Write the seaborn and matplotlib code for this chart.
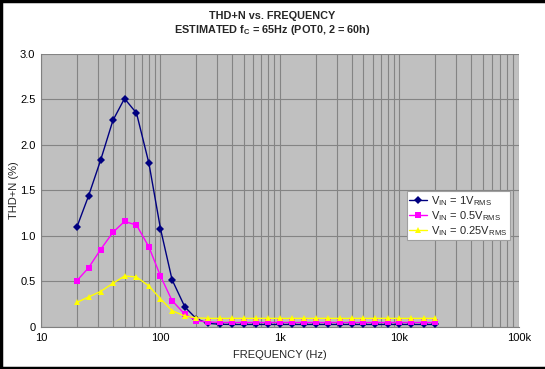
import numpy as np
import pandas as pd
import seaborn as sns
import matplotlib.pyplot as plt
from matplotlib.ticker import FixedLocator, LogLocator, NullFormatter

# donnees (pas de 1/3 d'octave)
freq = [20, 25, 31.5, 40, 50, 63, 80, 100, 125, 160, 200, 250, 315, 400, 500, 630, 800,
        1000, 1250, 1600, 2000, 2500, 3150, 4000, 5000, 6300, 8000, 10000, 12500, 16000, 20000]
thd_1v = [1.10, 1.44, 1.83, 2.27, 2.51, 2.35, 1.80, 1.08, 0.52, 0.22, 0.09, 0.04, 0.03] + [0.028] * 18
thd_05v = [0.51, 0.65, 0.85, 1.04, 1.16, 1.12, 0.88, 0.56, 0.29, 0.14, 0.07, 0.055, 0.05] + [0.05] * 18
thd_025v = [0.27, 0.33, 0.39, 0.48, 0.56, 0.55, 0.45, 0.31, 0.18, 0.12, 0.10, 0.095, 0.095] + [0.095] * 18

labels = [r'V$_{IN}$ = 1V$_{RMS}$', r'V$_{IN}$ = 0.5V$_{RMS}$', r'V$_{IN}$ = 0.25V$_{RMS}$']
xtick_vals = [10, 100, 1000, 10000, 100000]
xtick_labels = ['10', '100', '1k', '10k', '100k']
ytick_vals = [0, 0.5, 1.0, 1.5, 2.0, 2.5, 3.0]
ytick_labels = ['0', '0.5', '1.0', '1.5', '2.0', '2.5', '3.0']

df = pd.concat([
    pd.DataFrame({'freq': freq, 'thd': thd_1v, 'serie': labels[0]}),
    pd.DataFrame({'freq': freq, 'thd': thd_05v, 'serie': labels[1]}),
    pd.DataFrame({'freq': freq, 'thd': thd_025v, 'serie': labels[2]}),
])

sns.set_style('white')
plt.rcParams['font.family'] = ['Liberation Sans', 'DejaVu Sans']
plt.rcParams['mathtext.default'] = 'regular'

fig = plt.figure(figsize=(5.45, 3.69), dpi=100)
# cadre noir autour de l'image (gauche, haut, bas)
fig.add_artist(plt.Line2D([0.002, 0.002], [0, 1], color='black', linewidth=2.5))
fig.add_artist(plt.Line2D([0, 1], [0.997, 0.997], color='black', linewidth=2.5))
fig.add_artist(plt.Line2D([0, 1], [0.004, 0.004], color='black', linewidth=2.5))

ax = fig.add_axes([0.0752, 0.1138, 0.877, 0.740])
ax.set_facecolor('#c0c0c0')

palette = {labels[0]: '#000080', labels[1]: '#ff00ff', labels[2]: '#ffff00'}
markers = {labels[0]: 'D', labels[1]: 's', labels[2]: '^'}
sns.lineplot(data=df, x='freq', y='thd', hue='serie', style='serie', palette=palette,
             markers=markers, dashes=False, markersize=4.5, linewidth=1,
             markeredgewidth=0, ax=ax, zorder=3)

ax.set_xscale('log')
ax.set_xlim(10, 100000)
ax.set_ylim(0, 3.0)
ax.xaxis.set_major_locator(FixedLocator(xtick_vals))
ax.set_xticks(xtick_vals)
ax.set_xticklabels(xtick_labels)
ax.xaxis.set_minor_locator(LogLocator(base=10, subs=np.arange(2, 10)))
ax.xaxis.set_minor_formatter(NullFormatter())
ax.set_yticks(ytick_vals)
ax.set_yticklabels(ytick_labels)
ax.tick_params(axis='both', which='both', length=0, labelsize=8, colors='black', pad=4)

ax.grid(True, which='major', axis='both', color='#848484', linewidth=0.8)
ax.grid(True, which='minor', axis='x', color='#848484', linewidth=0.8)
ax.set_axisbelow(True)
for s in ax.spines.values():
    s.set_visible(False)
ax.spines['left'].set_visible(True)
ax.spines['left'].set_color('#808080')
ax.spines['bottom'].set_visible(True)
ax.spines['bottom'].set_color('#808080')

ax.set_xlabel('FREQUENCY (Hz)', fontsize=8, labelpad=5)
ax.set_ylabel('THD+N (%)', fontsize=8, labelpad=1)

fig.text(0.5, 0.957, 'THD+N vs. FREQUENCY', ha='center', va='center', fontsize=7.8, fontweight='bold')
fig.text(0.5, 0.92, r'ESTIMATED f$_C$ = 65Hz (POT0, 2 = 60h)', ha='center', va='center',
         fontsize=7.8, fontweight='bold')

leg = ax.legend(loc='upper left', bbox_to_anchor=(0.765, 0.497), fontsize=8, frameon=True,
                fancybox=False, borderpad=0.25, labelspacing=0.1, handlelength=1.6,
                handletextpad=0.3, borderaxespad=0)
leg.get_frame().set_edgecolor('#a0a0a0')
leg.get_frame().set_linewidth(0.8)
leg.get_frame().set_facecolor('white')
leg.get_frame().set_alpha(1)

plt.savefig('out.png', dpi=100)
